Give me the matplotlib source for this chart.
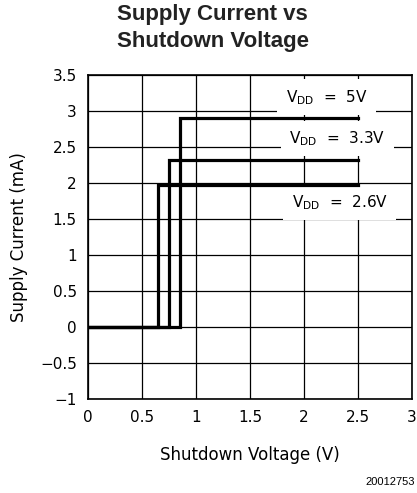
import numpy as np
import matplotlib.pyplot as plt

# step curves: supply current vs shutdown voltage
vdd_labels = ["5V", "3.3V", "2.6V"]
step_v = [0.85, 0.75, 0.65]        # shutdown voltage where current turns on
on_current = [2.9, 2.32, 1.97]     # mA after turn-on
v_end = 2.5

label_pos = [(2.21, 3.19), (2.31, 2.62), (2.33, 1.73)]

xticks = [0, 0.5, 1, 1.5, 2, 2.5, 3]
xticklabels = ["0", "0.5", "1", "1.5", "2", "2.5", "3"]
yticks = [-1, -0.5, 0, 0.5, 1, 1.5, 2, 2.5, 3, 3.5]
yticklabels = ["\u22121", "\u22120.5", "0", "0.5", "1", "1.5", "2", "2.5", "3", "3.5"]

fig = plt.figure(figsize=(4.17, 4.93), dpi=100, facecolor="w")
ax = fig.add_axes([0.211, 0.191, 0.777, 0.657])

for sv, cur in zip(step_v, on_current):
    xs = [0, sv, sv, v_end]
    ys = [0, 0, cur, cur]
    ax.plot(xs, ys, color="#000000", linewidth=2.3, solid_joinstyle="miter", zorder=3)

# labels sit on white patches that hide the grid, but stay under the curves
for name, (lx, ly) in zip(vdd_labels, label_pos):
    ax.text(lx, ly, r"V$_{\mathregular{DD}}$  =  " + name, ha="center", va="center",
            fontsize=11, family="DejaVu Sans", zorder=2.5,
            bbox=dict(boxstyle="square,pad=0.55", facecolor="white", edgecolor="none"))

ax.set_xlim(0, 3)
ax.set_ylim(-1, 3.5)
ax.set_xticks(xticks)
ax.set_xticklabels(xticklabels)
ax.set_yticks(yticks)
ax.set_yticklabels(yticklabels)
ax.tick_params(length=0, labelsize=11, pad=8)
ax.grid(True, color="#000000", linewidth=0.9)
ax.set_axisbelow(True)
for s in ax.spines.values():
    s.set_linewidth(1.2)

ax.set_xlabel("Shutdown Voltage (V)", fontsize=12, labelpad=15)
ax.set_ylabel("Supply Current (mA)", fontsize=12, labelpad=9)

fig.text(0.51, 0.943, "Supply Current vs\nShutdown Voltage", ha="center", va="center",
         fontsize=16, fontweight="bold", family="Liberation Sans", color="#222222",
         linespacing=1.35)
fig.text(0.995, 0.022, "20012753", ha="right", va="center", fontsize=8,
         family="Liberation Sans")

plt.savefig("out.png", dpi=100)
